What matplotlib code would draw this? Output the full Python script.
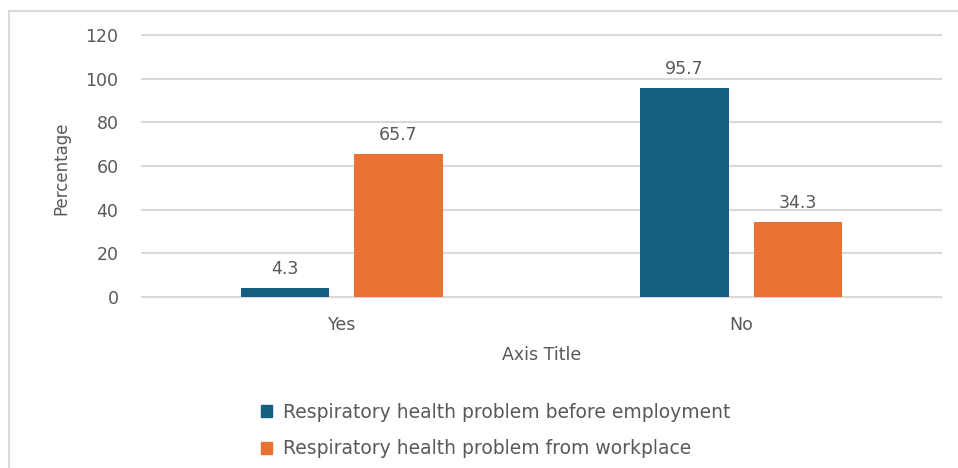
import matplotlib.pyplot as plt
import numpy as np
from matplotlib.lines import Line2D
from matplotlib.patches import Patch

categories = ['Yes', 'No']
before_employment = [4.3, 95.7]
from_workplace = [65.7, 34.3]
series_names = ['Respiratory health problem before employment',
                'Respiratory health problem from workplace']
y_ticks = [0, 20, 40, 60, 80, 100, 120]

W, H = 958, 468
blue = '#155F82'
orange = '#E97132'
text_gray = '#595959'
grid_gray = '#D9D9D9'

plt.rcParams['font.family'] = ['DejaVu Sans']

fig = plt.figure(figsize=(W / 100, H / 100), dpi=100)
ax = fig.add_axes([142 / W, 1 - 297 / H, (941 - 142) / W, (297 - 35) / H])

x = np.arange(len(categories))
width = 0.222
off = 0.142
b1 = ax.bar(x - off, before_employment, width, color=blue, zorder=3)
b2 = ax.bar(x + off, from_workplace, width, color=orange, zorder=3)

# value labels above each bar
for bars, vals in ((b1, before_employment), (b2, from_workplace)):
    for rect, v in zip(bars, vals):
        ax.annotate(str(v), (rect.get_x() + rect.get_width() / 2, v),
                    xytext=(0, 7), textcoords='offset points',
                    ha='center', va='bottom', fontsize=12.5, color=text_gray)

ax.set_xlim(-0.5, 1.5)
ax.set_ylim(0, 120)
ax.set_xticks(x)
ax.set_xticklabels(categories)
ax.set_yticks(y_ticks)
ax.tick_params(axis='both', length=0, labelsize=12.5, colors=text_gray)
ax.tick_params(axis='x', pad=14)
ax.tick_params(axis='y', pad=17)
ax.grid(axis='y', color=grid_gray, linewidth=1.5, zorder=0)
for gl in ax.get_ygridlines():
    gl.set_clip_on(False)
for s in ['top', 'right', 'left']:
    ax.spines[s].set_visible(False)
ax.spines['bottom'].set_color(grid_gray)
ax.spines['bottom'].set_linewidth(1.5)

ax.set_xlabel('Axis Title', fontsize=12.5, color=text_gray, labelpad=8.5)
fig.text(61 / W, 1 - 168 / H, 'Percentage', rotation=90, ha='center', va='center',
         fontsize=12, color=text_gray)

# chart area frame (top and left edges)
fig.add_artist(Line2D([9 / W, 9 / W], [0, 1 - 11 / H], color=grid_gray, linewidth=1.5))
fig.add_artist(Line2D([9 / W, 1], [1 - 11 / H, 1 - 11 / H], color=grid_gray, linewidth=1.5))

handles = [Patch(color=blue), Patch(color=orange)]
fig.legend(handles, series_names, loc='upper left',
           bbox_to_anchor=(253 / W, 1 - 395 / H), frameon=False,
           fontsize=13.5, labelcolor=text_gray, handlelength=0.6, handleheight=0.6,
           handletextpad=0.6, labelspacing=0.95, borderaxespad=0)

fig.savefig('out.png', dpi=100)
